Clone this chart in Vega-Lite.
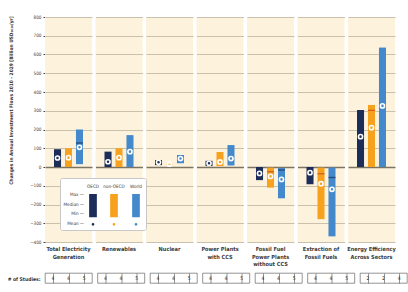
{
  "$schema": "https://vega.github.io/schema/vega-lite/v6.json",
  "padding": {"left": 7, "top": 14, "right": 4, "bottom": 4},
  "background": "white",
  "datasets": {
    "inv": [
      {"sector": "Total Electricity Generation", "region": "OECD", "min": 0, "max": 95, "median": null, "mean": 48, "n": 4},
      {"sector": "Total Electricity Generation", "region": "non-OECD", "min": 0, "max": 100, "median": null, "mean": 50, "n": 4},
      {"sector": "Total Electricity Generation", "region": "World", "min": 15, "max": 200, "median": 128, "mean": 105, "n": 5},
      {"sector": "Renewables", "region": "OECD", "min": 0, "max": 82, "median": null, "mean": 28, "n": 4},
      {"sector": "Renewables", "region": "non-OECD", "min": 0, "max": 100, "median": null, "mean": 50, "n": 4},
      {"sector": "Renewables", "region": "World", "min": 0, "max": 170, "median": null, "mean": 82, "n": 5},
      {"sector": "Nuclear", "region": "OECD", "min": 10, "max": 37, "median": null, "mean": 25, "n": 4},
      {"sector": "Nuclear", "region": "non-OECD", "min": 13, "max": 17, "median": null, "mean": 15, "n": 4},
      {"sector": "Nuclear", "region": "World", "min": 20, "max": 64, "median": null, "mean": 45, "n": 5},
      {"sector": "Power Plants with CCS", "region": "OECD", "min": 5, "max": 33, "median": null, "mean": 20, "n": 4},
      {"sector": "Power Plants with CCS", "region": "non-OECD", "min": 5, "max": 80, "median": null, "mean": 27, "n": 4},
      {"sector": "Power Plants with CCS", "region": "World", "min": 8, "max": 117, "median": null, "mean": 45, "n": 5},
      {"sector": "Fossil Fuel Power Plants without CCS", "region": "OECD", "min": 0, "max": -70, "median": null, "mean": -34, "n": 4},
      {"sector": "Fossil Fuel Power Plants without CCS", "region": "non-OECD", "min": -3, "max": -110, "median": -25, "mean": -50, "n": 4},
      {"sector": "Fossil Fuel Power Plants without CCS", "region": "World", "min": -5, "max": -167, "median": -16, "mean": -66, "n": 5},
      {"sector": "Extraction of Fossil Fuels", "region": "OECD", "min": 0, "max": -92, "median": null, "mean": -30, "n": 4},
      {"sector": "Extraction of Fossil Fuels", "region": "non-OECD", "min": -3, "max": -278, "median": -36, "mean": -89, "n": 4},
      {"sector": "Extraction of Fossil Fuels", "region": "World", "min": -3, "max": -370, "median": -56, "mean": -119, "n": 5},
      {"sector": "Energy Efficiency Across Sectors", "region": "OECD", "min": 0, "max": 304, "median": null, "mean": 162, "n": 2},
      {"sector": "Energy Efficiency Across Sectors", "region": "non-OECD", "min": 0, "max": 331, "median": 302, "mean": 210, "n": 2},
      {"sector": "Energy Efficiency Across Sectors", "region": "World", "min": 0, "max": 637, "median": null, "mean": 326, "n": 4}
    ]
  },
  "vconcat": [
    {
      "data": {"name": "inv"},
      "facet": {
        "column": {
          "field": "sector",
          "type": "nominal",
          "sort": ["Total Electricity Generation", "Renewables", "Nuclear", "Power Plants with CCS", "Fossil Fuel Power Plants without CCS", "Extraction of Fossil Fuels", "Energy Efficiency Across Sectors"],
          "header": {
            "title": null,
            "labelOrient": "bottom",
            "labelPadding": 5,
            "labelBaseline": "top",
            "labelFontSize": 5.6,
            "labelFontWeight": "bold",
            "labelColor": "#3a3a3a",
            "labelLineHeight": 7.6,
            "labelFont": "Liberation Sans Narrow, DejaVu Sans Condensed, sans-serif",
            "labelExpr": "datum.value == 'Total Electricity Generation' ? ['Total Electricity', 'Generation'] : datum.value == 'Power Plants with CCS' ? ['Power Plants', 'with CCS'] : datum.value == 'Fossil Fuel Power Plants without CCS' ? ['Fossil Fuel', 'Power Plants', 'without CCS'] : datum.value == 'Extraction of Fossil Fuels' ? ['Extraction of', 'Fossil Fuels'] : datum.value == 'Energy Efficiency Across Sectors' ? ['Energy Efficiency', 'Across Sectors'] : datum.value"
          }
        }
      },
      "spacing": {"column": 3.5},
      "spec": {
        "width": 47,
        "height": 225,
        "layer": [
          {
            "mark": {"type": "bar", "orient": "vertical"},
            "encoding": {
              "x": {"field": "region", "type": "nominal", "sort": ["OECD", "non-OECD", "World"], "axis": null,
                    "scale": {"paddingInner": 0.36, "paddingOuter": 0.82}},
              "y": {"field": "min", "type": "quantitative",
                    "scale": {"domain": [-400, 800], "nice": false, "zero": false},
                    "axis": {
                      "title": "Changes in Annual Investment Flows 2010 - 2029 [Billion USD₂₀₁₀/yr]",
                      "values": [-400, -300, -200, -100, 0, 100, 200, 300, 400, 500, 600, 700, 800],
                      "tickCount": 20
                    }},
              "y2": {"field": "max"},
              "color": {
                "field": "region", "type": "nominal",
                "scale": {"domain": ["OECD", "non-OECD", "World"], "range": ["#1c2d5a", "#f7a21f", "#4389cb"]},
                "legend": {
                  "orient": "none", "legendX": 15, "legendY": 161,
                  "direction": "horizontal",
                  "title": ["", "Max —", "Median —", "Min —", "Mean —"],
                  "titleOrient": "left", "titleAlign": "right", "titleAnchor": "start", "titleBaseline": "top",
                  "titleFontSize": 4.6, "titleFontWeight": "normal", "titleColor": "#333", "titleLineHeight": 9.8, "titlePadding": -19,
                  "titleFont": "Liberation Sans Narrow, DejaVu Sans Condensed, sans-serif",
                  "fillColor": "white", "strokeColor": "#c8c8c8", "padding": 4, "cornerRadius": 2,
                  "symbolType": "M-0.55,0.67H0.55V4H-0.55Z M-0.19,5A0.19,0.19 0 1,0 0.19,5A0.19,0.19 0 1,0 -0.19,5Z",
                  "symbolSize": 196, "symbolStrokeWidth": 0,
                  "labelAlign": "center", "labelBaseline": "bottom", "labelOffset": -7,
                  "labelFontSize": 4.6, "labelColor": "#333", "columnPadding": 4,
                  "labelFont": "Liberation Sans Narrow, DejaVu Sans Condensed, sans-serif"
                }
              }
            }
          },
          {
            "mark": {"type": "tick", "thickness": 1.3, "size": 7},
            "encoding": {
              "x": {"field": "region", "type": "nominal", "sort": ["OECD", "non-OECD", "World"]},
              "y": {"field": "median", "type": "quantitative",
                    "axis": {
                      "title": "Changes in Annual Investment Flows 2010 - 2029 [Billion USD₂₀₁₀/yr]",
                      "values": [-400, -300, -200, -100, 0, 100, 200, 300, 400, 500, 600, 700, 800],
                      "tickCount": 20
                    }},
              "color": {
                "condition": [
                  {"test": "datum.region === 'OECD'", "value": "#9ecbf0"},
                  {"test": "datum.region === 'non-OECD'", "value": "#c8401e"}
                ],
                "value": "#1c2d5a"
              }
            }
          },
          {
            "mark": {"type": "point", "shape": "circle", "filled": false, "stroke": "white", "strokeWidth": 1.6, "size": 17, "opacity": 1},
            "encoding": {
              "x": {"field": "region", "type": "nominal", "sort": ["OECD", "non-OECD", "World"]},
              "y": {"field": "mean", "type": "quantitative",
                    "axis": {
                      "title": "Changes in Annual Investment Flows 2010 - 2029 [Billion USD₂₀₁₀/yr]",
                      "values": [-400, -300, -200, -100, 0, 100, 200, 300, 400, 500, 600, 700, 800],
                      "tickCount": 20
                    }}
            }
          }
        ]
      }
    },
    {
      "data": {"name": "inv"},
      "facet": {
        "column": {
          "field": "sector",
          "type": "nominal",
          "sort": ["Total Electricity Generation", "Renewables", "Nuclear", "Power Plants with CCS", "Fossil Fuel Power Plants without CCS", "Extraction of Fossil Fuels", "Energy Efficiency Across Sectors"],
          "header": {"title": null, "labels": false}
        }
      },
      "spacing": {"column": 3.5},
      "spec": {
        "width": 47,
        "height": 10,
        "view": {"fill": "white", "stroke": "#666", "strokeWidth": 0.7},
        "mark": {"type": "text", "fontSize": 5, "color": "#333", "font": "Liberation Sans Narrow, DejaVu Sans Condensed, sans-serif"},
        "encoding": {
          "x": {"field": "region", "type": "nominal", "sort": ["OECD", "non-OECD", "World"],
                "scale": {"paddingInner": 0, "paddingOuter": 0},
                "axis": {"title": null, "labels": false, "ticks": false, "domain": false, "grid": true, "bandPosition": 0, "gridColor": "#666", "gridWidth": 0.7}},
          "y": {"datum": "# of Studies:", "type": "nominal",
                "axis": {"title": null, "domain": false, "ticks": false, "grid": false, "labelFontSize": 5, "labelFontWeight": "bold", "labelColor": "#333", "labelPadding": 4,
                         "labelFont": "Liberation Sans Narrow, DejaVu Sans Condensed, sans-serif"}},
          "text": {"field": "n", "type": "quantitative"}
        }
      }
    }
  ],
  "spacing": 4,
  "config": {
    "view": {"fill": "#fdf2dc", "stroke": null},
    "axisY": {
      "labelOverlap": false,
      "titleFontSize": 4.85, "titleFontWeight": "bold", "titleColor": "#333",
      "titleFont": "Liberation Sans Narrow, DejaVu Sans Condensed, sans-serif",
      "titleX": -34, "titleY": 83, "titleAngle": -90, "titleAlign": "center", "titleBaseline": "middle",
      "labelFontSize": 4.6, "labelColor": "#444", "labelPadding": 2,
      "labelFont": "Liberation Sans Narrow, DejaVu Sans Condensed, sans-serif",
      "tickSize": 2, "tickColor": "#444", "domainColor": "#333", "domainWidth": 1,
      "grid": true,
      "gridColor": {"condition": {"test": "datum.value === 0", "value": "#7c7463"}, "value": "#c9c0ad"},
      "gridWidth": {"condition": {"test": "datum.value === 0", "value": 1.6}, "value": 1.2}
    }
  }
}
